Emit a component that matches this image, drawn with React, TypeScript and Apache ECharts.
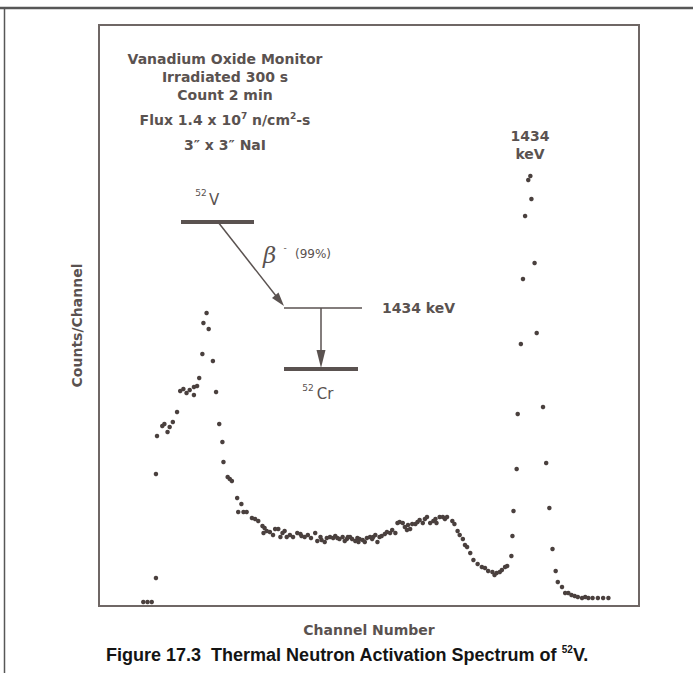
import React, { useEffect, useRef } from "react";
import * as echarts from "echarts";

const channel = [
  42, 46, 50, 54, 54, 55, 60, 62, 65, 67,
  70, 74, 77, 80, 83, 86, 90, 90, 93, 95,
  98, 99, 102, 104, 108, 111, 114, 117, 118, 122,
  124, 126, 131, 132, 135, 137, 140, 145, 148, 151,
  155, 156, 157, 159, 162, 165, 167, 170, 172, 174,
  176, 178, 181, 184, 188, 191, 192, 195, 198, 201,
  205, 207, 210, 211, 214, 216, 219, 222, 224, 226,
  228, 231, 233, 235, 236, 238, 240, 243, 245, 246,
  247, 250, 252, 254, 257, 259, 260, 262, 264, 266,
  268, 271, 273, 276, 278, 281, 283, 285, 288, 290,
  292, 293, 295, 297, 300, 302, 304, 307, 309, 311,
  314, 317, 319, 320, 323, 326, 328, 330, 335, 337,
  340, 342, 345, 347, 349, 352, 355, 359, 363, 366,
  369, 373, 375, 377, 380, 382, 385, 387, 391, 392,
  393, 396, 397, 400, 402, 404, 407, 409, 410, 413,
  415, 421, 424, 427, 430, 433, 435, 439, 442, 445,
  448, 451, 454, 458, 461, 464, 468, 473, 478, 483,
];

const counts = [
  34, 34, 34, 241, 1136, 1463, 1549, 1566, 1497, 1540,
  1584, 1670, 1850, 1867, 1833, 1859, 1885, 1816, 1893, 1962,
  2169, 2435, 2522, 2384, 2108, 1842, 1566, 1411, 1239, 1110,
  1093, 1076, 929, 809, 878, 809, 809, 757, 749, 732,
  688, 628, 671, 645, 637, 611, 663, 663, 594, 628,
  645, 594, 611, 594, 628, 620, 602, 594, 611, 585,
  628, 559, 594, 568, 551, 585, 594, 585, 602, 585,
  577, 594, 559, 577, 594, 594, 577, 559, 585, 551,
  577, 568, 551, 585, 594, 577, 594, 611, 551, 594,
  602, 620, 637, 628, 654, 628, 714, 723, 714, 680,
  654, 697, 663, 706, 706, 723, 740, 714, 749, 766,
  714, 732, 749, 714, 766, 766, 749, 766, 732, 706,
  645, 611, 577, 525, 508, 456, 396, 361, 336, 327,
  301, 293, 267, 284, 293, 310, 336, 344, 430, 602,
  818, 1179, 1652, 2255, 2814, 3356, 3666, 3701, 3503, 2952,
  2349, 1713, 1231, 843, 491, 301, 207, 164, 112, 112,
  95, 86, 77, 69, 77, 69, 69, 69, 69, 69,
];

const xAxisTitle = "Channel Number";
const yAxisTitle = "Counts/Channel";
const headerLines = ["Vanadium Oxide Monitor", "Irradiated 300 s", "Count 2 min"];
const caption = "Figure 17.3  Thermal Neutron Activation Spectrum of ";

const INK = "#5a5250";
const FONT = "'DejaVu Sans', sans-serif";

function txt(text: string, x: number, y: number, size: number, extra: any = {}) {
  return {
    type: "text",
    x,
    y,
    silent: true,
    style: {
      text,
      fill: INK,
      fontSize: size,
      fontFamily: FONT,
      fontWeight: "bold",
      align: "center",
      verticalAlign: "middle",
      ...extra,
    },
  };
}

function seg(x1: number, y1: number, x2: number, y2: number, w: number, color = INK) {
  return {
    type: "line",
    silent: true,
    shape: { x1, y1, x2, y2 },
    style: { stroke: color, lineWidth: w },
  };
}

export default function App() {
  const ref = useRef<HTMLDivElement>(null);

  useEffect(() => {
    if (!ref.current) return;
    const chart = echarts.init(ref.current, undefined, { renderer: "svg" });
    const data = channel.map((c, i) => [c, counts[i]]);

    const headerY = [59, 77, 95];
    const graphic: any[] = [
      // outer frame
      seg(0, 8, 693, 8, 2.5, "#575757"),
      seg(4.5, 8, 4.5, 673, 1.5, "#575757"),
      // header block
      ...headerLines.map((t, i) => txt(t, 225, headerY[i], 14)),
      {
        type: "text",
        x: 225,
        y: 120,
        silent: true,
        style: {
          text: "{b|Flux 1.4 x 10}{s|7}{b| n/cm}{s|2}{b|-s}",
          align: "center",
          verticalAlign: "middle",
          rich: {
            b: { fontSize: 14, fontFamily: FONT, fontWeight: "bold", fill: INK, lineHeight: 18 },
            s: { fontSize: 9, fontFamily: FONT, fontWeight: "bold", fill: INK, lineHeight: 6, verticalAlign: "top" },
          },
        },
      },
      txt("3\u2033 x 3\u2033 NaI", 225, 145, 14),
      // decay scheme
      txt("52", 201, 193, 9, { fontWeight: "normal" }),
      txt("V", 214, 200, 15, { fontWeight: "normal" }),
      seg(181, 222, 254, 222, 4),
      seg(218, 222, 280, 301, 1.5),
      {
        type: "polygon",
        silent: true,
        shape: { points: [[284, 306], [272, 298], [278.5, 292.5]] },
        style: { fill: INK },
      },
      {
        type: "text",
        x: 263,
        y: 255,
        silent: true,
        style: {
          text: "\u03B2",
          fill: INK,
          fontSize: 23,
          fontFamily: "'DejaVu Serif', serif",
          fontStyle: "italic",
          align: "left",
          verticalAlign: "middle",
        },
      },
      txt("-", 285, 248, 9, { fontWeight: "normal" }),
      txt("(99%)", 313, 254, 12, { fontWeight: "normal" }),
      seg(284, 308, 362, 308, 1.5),
      txt("1434 keV", 382, 308, 14, { align: "left" }),
      seg(321, 308, 321, 352, 1.5),
      {
        type: "polygon",
        silent: true,
        shape: { points: [[321, 368], [316.5, 350], [325.5, 350]] },
        style: { fill: INK },
      },
      seg(284, 369, 358, 369, 4),
      txt("52", 308, 388, 9, { fontWeight: "normal" }),
      txt("Cr", 325, 394, 15, { fontWeight: "normal" }),
      // peak label
      txt("1434", 530, 136, 14),
      txt("keV", 530, 154, 14),
      // caption
      {
        type: "text",
        x: 347,
        y: 655,
        silent: true,
        style: {
          text: "{b|" + caption + "}{s|52}{b|V.}",
          align: "center",
          verticalAlign: "middle",
          rich: {
            b: { fontSize: 18, fontFamily: "'Liberation Sans', Arial, sans-serif", fontWeight: "bold", fill: "#141414", lineHeight: 22 },
            s: { fontSize: 10, fontFamily: "'Liberation Sans', Arial, sans-serif", fontWeight: "bold", fill: "#141414", lineHeight: 8, verticalAlign: "top" },
          },
        },
      },
    ];

    chart.setOption({
      animation: false,
      backgroundColor: "#ffffff",
      grid: {
        left: 99,
        top: 25,
        width: 540,
        height: 581,
        show: true,
        borderColor: "#6f6765",
        borderWidth: 2,
        backgroundColor: "transparent",
      },
      xAxis: {
        type: "value",
        min: 0,
        max: 512,
        name: xAxisTitle,
        nameLocation: "middle",
        nameGap: 17,
        nameTextStyle: { color: INK, fontSize: 14, fontFamily: FONT, fontWeight: "bold", verticalAlign: "top" },
        axisLine: { show: false },
        axisTick: { show: false },
        axisLabel: { show: false },
        splitLine: { show: false },
      },
      yAxis: {
        type: "value",
        min: 0,
        max: 5000,
        name: yAxisTitle,
        nameLocation: "middle",
        nameGap: 15,
        nameTextStyle: { color: INK, fontSize: 14, fontFamily: FONT, fontWeight: "bold", padding: [0, 20, 0, 0] },
        axisLine: { show: false },
        axisTick: { show: false },
        axisLabel: { show: false },
        splitLine: { show: false },
      },
      series: [
        {
          type: "scatter",
          data,
          symbol: "circle",
          symbolSize: 4.5,
          itemStyle: { color: "#4a403e", opacity: 1 },
          silent: true,
        },
      ],
      graphic,
    });

    return () => chart.dispose();
  }, []);

  return (
    <div
      ref={ref}
      style={{ position: "absolute", left: 0, top: 0, width: 693, height: 673, background: "#fff" }}
    />
  );
}
